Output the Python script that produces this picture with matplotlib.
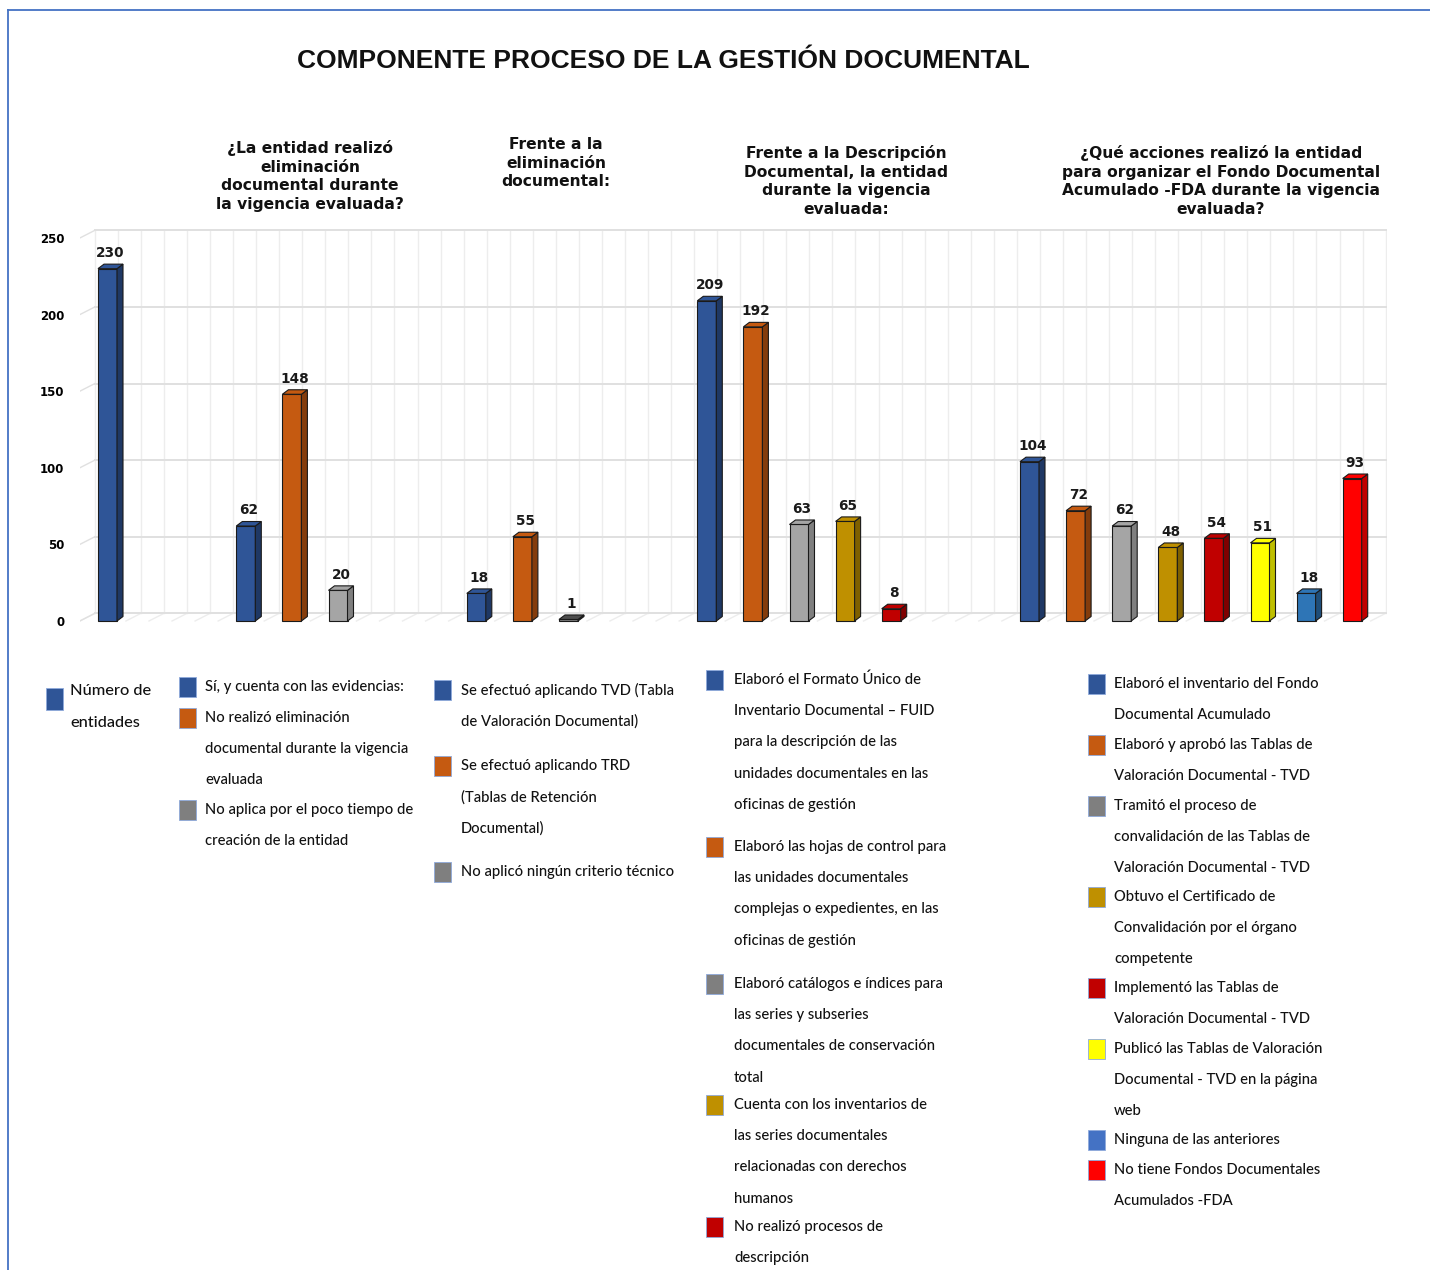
import matplotlib
matplotlib.use("Agg")
import matplotlib.pyplot as plt
from matplotlib.patches import Polygon, Rectangle
from matplotlib.lines import Line2D

# ---------------- data ----------------
slots = [0, 3, 4, 5, 8, 9, 10, 13, 14, 15, 16, 17, 20, 21, 22, 23, 24, 25, 26, 27]
values = [230, 62, 148, 20, 18, 55, 1, 209, 192, 63, 65, 8, 104, 72, 62, 48, 54, 51, 18, 93]
front_colors = ["#2F5597", "#2F5597", "#C55A11", "#A5A5A5", "#2F5597", "#C55A11", "#7F7F7F",
                "#2F5597", "#C55A11", "#A5A5A5", "#BF9000", "#C00000",
                "#2F5597", "#C55A11", "#A5A5A5", "#BF9000", "#C00000", "#FFFF00", "#2E75B6", "#FF0000"]
side_colors = ["#1F3864", "#1F3864", "#843C0C", "#7F7F7F", "#1F3864", "#843C0C", "#4D4D4D",
               "#1F3864", "#843C0C", "#7F7F7F", "#7F6000", "#800000",
               "#1F3864", "#843C0C", "#7F7F7F", "#7F6000", "#800000", "#BFBF00", "#1F4E79", "#C00000"]

title = "COMPONENTE PROCESO DE LA GESTIÓN DOCUMENTAL"
questions = [
    "¿La entidad realizó\neliminación\ndocumental durante\nla vigencia evaluada?",
    "Frente a la\neliminación\ndocumental:",
    "Frente a la Descripción\nDocumental, la entidad\ndurante la vigencia\nevaluada:",
    "¿Qué acciones realizó la entidad\npara organizar el Fondo Documental\nAcumulado -FDA durante la vigencia\nevaluada?",
]
y_ticks = [0, 50, 100, 150, 200, 250]

legend_first = ["Número de", "entidades"]
legend_cols = [
    [("#2F5597", "Sí, y cuenta con las evidencias:"),
     ("#C55A11", "No realizó eliminación\ndocumental durante la vigencia\nevaluada"),
     ("#7F7F7F", "No aplica por el poco tiempo de\ncreación de la entidad")],
    [("#2F5597", "Se efectuó aplicando TVD (Tabla\nde Valoración Documental)"),
     ("#C55A11", "Se efectuó aplicando TRD\n(Tablas de Retención\nDocumental)"),
     ("#7F7F7F", "No aplicó ningún criterio técnico")],
    [("#2F5597", "Elaboró el Formato Único de\nInventario Documental – FUID\npara la descripción de las\nunidades documentales en las\noficinas de gestión"),
     ("#C55A11", "Elaboró las hojas de control para\nlas unidades documentales\ncomplejas o expedientes, en las\noficinas de gestión"),
     ("#7F7F7F", "Elaboró catálogos e índices para\nlas series y subseries\ndocumentales de conservación\ntotal"),
     ("#BF9000", "Cuenta con los inventarios de\nlas series documentales\nrelacionadas con derechos\nhumanos"),
     ("#C00000", "No realizó procesos de\ndescripción")],
    [("#2F5597", "Elaboró el inventario del Fondo\nDocumental Acumulado"),
     ("#C55A11", "Elaboró y aprobó las Tablas de\nValoración Documental - TVD"),
     ("#7F7F7F", "Tramitó el proceso de\nconvalidación de las Tablas de\nValoración Documental - TVD"),
     ("#BF9000", "Obtuvo el Certificado de\nConvalidación por el órgano\ncompetente"),
     ("#C00000", "Implementó las Tablas de\nValoración Documental - TVD"),
     ("#FFFF00", "Publicó las Tablas de Valoración\nDocumental - TVD en la página\nweb"),
     ("#4472C4", "Ninguna de las anteriores"),
     ("#FF0000", "No tiene Fondos Documentales\nAcumulados -FDA")],
]

legend_font = "Lato"

W, H = 1430, 1270
fig = plt.figure(figsize=(W / 100, H / 100), dpi=100)
fig.patch.set_facecolor("white")


def fx(x):
    return x / W


def fy(y):
    return 1 - y / H


# frame lines
fig.add_artist(Line2D([fx(8), fx(8)], [fy(10), fy(1270)], color="#4472C4", lw=1.3))
fig.add_artist(Line2D([fx(8), fx(1430)], [fy(10), fy(10)], color="#4472C4", lw=1.3))

# ---------------- axes geometry ----------------
px_per_slot = 46.1
px_per_unit = 1.532
x0_px = 107.5          # pixel of slot 0 centre
y0_px = 621            # pixel of value 0
xmin, xmax = -0.6, 27.76
ymin, ymax = -6, 262
left_px = x0_px + xmin * px_per_slot
right_px = x0_px + xmax * px_per_slot
bot_px = y0_px - ymin * px_per_unit
top_px = y0_px - ymax * px_per_unit
ax = fig.add_axes([fx(left_px), fy(bot_px), (right_px - left_px) / W, (bot_px - top_px) / H])
ax.set_xlim(xmin, xmax)
ax.set_ylim(ymin, ymax)
for s in ax.spines.values():
    s.set_visible(False)
ax.set_xticks([])
ax.set_yticks(y_ticks)
ax.set_yticklabels([str(t) for t in y_ticks], fontsize=8.5, fontweight="bold",
                   family="DejaVu Sans")
ax.tick_params(axis="y", length=0, pad=11)

# back wall (3D depth offset)
wx = 15 / px_per_slot
wy = 5.0
grid_c = "#E0E0E0"
back_left = xmin + wx
for t in y_ticks:
    ax.plot([back_left, xmax], [t + wy, t + wy], color=grid_c, lw=1.4, zorder=1)
    ax.plot([xmin, back_left], [t, t + wy], color=grid_c, lw=1.0, zorder=1)
k = 0
while back_left + 0.5 * k <= xmax + 1e-6:
    xv = back_left + 0.5 * k
    ax.plot([xv, xv], [wy, y_ticks[-1] + wy], color="#EDEDED", lw=1.0, zorder=0.9)
    ax.plot([xv - wx, xv], [0, wy], color="#EDEDED", lw=1.0, zorder=0.9)
    k += 1

# ---------------- 3D-looking bars ----------------
bw = 19 / px_per_slot
dx = 6 / px_per_slot
dy = 4.5 / px_per_unit
ax.bar(slots, values, width=bw, color=front_colors, edgecolor="#1a1a1a", linewidth=0.8, zorder=3)
for s, v, fc, sc in zip(slots, values, front_colors, side_colors):
    r = s + bw / 2
    l = s - bw / 2
    side = Polygon([(r, 0), (r + dx, dy), (r + dx, v + dy), (r, v)], closed=True,
                   facecolor=sc, edgecolor="#1a1a1a", lw=0.8, zorder=3)
    top = Polygon([(l, v), (l + dx, v + dy), (r + dx, v + dy), (r, v)], closed=True,
                  facecolor=sc if v < 5 else fc, edgecolor="#1a1a1a", lw=0.8, zorder=3.1)
    ax.add_patch(side)
    ax.add_patch(top)
    ax.annotate(str(v), (s + dx / 2, v + dy), xytext=(0, 3), textcoords="offset points",
                ha="center", va="bottom", fontsize=9.8, fontweight="bold",
                family="DejaVu Sans", color="#1a1a1a", zorder=4)

# ---------------- titles ----------------
fig.text(fx(663), fy(61), title, ha="center", va="center", fontsize=19,
         fontweight="bold", family="Liberation Sans", color="#111111")
q_pos = [(310, 176), (556, 163), (846, 181), (1221, 181)]
for (qx, qy), q in zip(q_pos, questions):
    fig.text(fx(qx), fy(qy), q, ha="center", va="center", fontsize=11.2,
             fontweight="bold", family="DejaVu Sans", color="#111111", linespacing=1.28)

# ---------------- legend blocks ----------------
line_px = 31.2
leg_fs = 10.6

fig.add_artist(Rectangle((fx(46), fy(710)), fx(17), 22 / H, facecolor="#2F5597",
                         edgecolor="#8EA9DB", lw=0.6))
for j, ln in enumerate(legend_first):
    fig.text(fx(70), fy(691 + j * 32), ln, ha="left", va="center",
             fontsize=11.8, fontweight="medium", family=legend_font, color="#111111")

col_layout = [
    (179, 205, [687, 718, 810]),
    (434, 461, [690, 766, 872]),
    (706, 734, [680, 847, 984, 1105, 1227]),
    (1088, 1114, [684, 745, 806, 897, 988, 1049, 1140, 1170]),
]
for (sq_x, tx_x, starts), items in zip(col_layout, legend_cols):
    for y_first, (c, label) in zip(starts, items):
        fig.add_artist(Rectangle((fx(sq_x), fy(y_first + 10)), fx(17), 20 / H,
                                 facecolor=c, edgecolor="#8EA9DB", lw=0.6))
        for j, ln in enumerate(label.split("\n")):
            fig.text(fx(tx_x), fy(y_first + j * line_px), ln, ha="left", va="center",
                     fontsize=leg_fs, fontweight="medium", family=legend_font,
                     color="#111111")

fig.savefig("out.png", dpi=100, facecolor="white")
